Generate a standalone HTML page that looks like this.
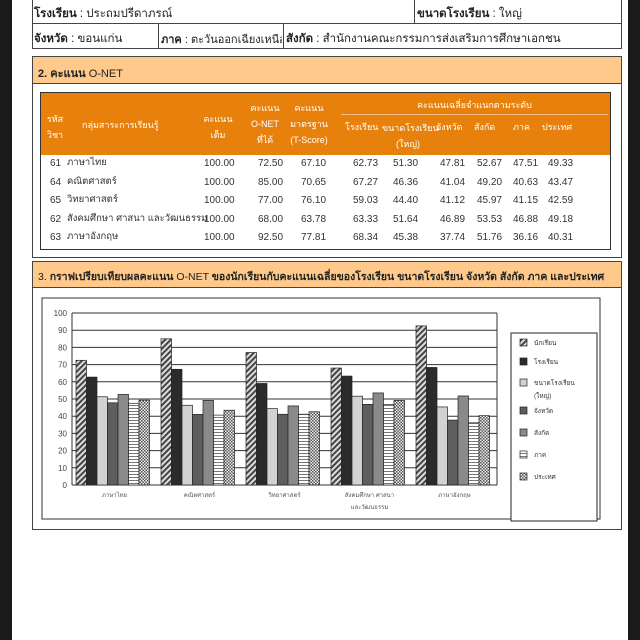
<!DOCTYPE html>
<html><head><meta charset="utf-8"><style>
*{margin:0;padding:0;box-sizing:border-box}
body{width:640px;height:640px;background:#1a1a1a;position:relative;overflow:hidden;font-family:"Liberation Sans","DejaVu Sans",sans-serif;color:#222}
.page{position:absolute;left:12px;top:0;width:616px;height:640px;background:#fff}
.a{position:absolute;white-space:nowrap}
.box{position:absolute;border:1px solid #444}
.t{font-size:10px;color:#333;line-height:12px}
.h{font-size:9px;color:#fff;text-align:center}
</style></head><body>
<div class="page"></div>
<div class="box" style="left:32px;top:-1px;width:590px;height:25px"></div>
<div class="box" style="left:32px;top:23px;width:590px;height:26px"></div>
<div class="a" style="left:414px;top:0;width:1px;height:23px;background:#444"></div>
<div class="a" style="left:158px;top:23px;width:1px;height:26px;background:#444"></div>
<div class="a" style="left:283px;top:23px;width:1px;height:26px;background:#444"></div>
<div class="a" style="left:34px;top:5px;font-size:11.5px"><b>โรงเรียน</b> :  ประถมปรีดาภรณ์</div>
<div class="a" style="left:417px;top:5px;font-size:11.5px"><b>ขนาดโรงเรียน</b> :  ใหญ่</div>
<div class="a" style="left:34px;top:30px;font-size:11.5px"><b>จังหวัด</b> : ขอนแก่น</div>
<div class="a" style="left:161px;top:30px;font-size:11px;width:121px;overflow:hidden"><b>ภาค</b> : ตะวันออกเฉียงเหนือ</div>
<div class="a" style="left:286px;top:30px;font-size:11.5px"><b>สังกัด</b> : สำนักงานคณะกรรมการส่งเสริมการศึกษาเอกชน</div>
<div class="box" style="left:32px;top:56px;width:590px;height:202px"></div>
<div class="a" style="left:33px;top:57px;width:588px;height:27px;background:#fec98a;border-bottom:1px solid #444"></div>
<div class="a" style="left:38px;top:64px;font-size:11px"><b>2. คะแนน</b>  O-NET</div>
<div class="a" style="left:40px;top:92px;width:571px;height:158px;border:1px solid #333"></div>
<div class="a" style="left:41px;top:93px;width:569px;height:62px;background:#e8810b"></div>
<div class="a" style="left:341px;top:114px;width:267px;height:1px;background:#f7c08a"></div>
<div class="a h" style="left:42px;top:111px;width:26px;line-height:16px">รหัส<br>วิชา</div>
<div class="a h" style="left:82px;top:118px">กลุ่มสาระการเรียนรู้</div>
<div class="a h" style="left:198px;top:111px;width:40px;line-height:16px">คะแนน<br>เต็ม</div>
<div class="a h" style="left:243px;top:100px;width:44px;line-height:16px">คะแนน<br>O-NET<br>ที่ได้</div>
<div class="a h" style="left:287px;top:100px;width:44px;line-height:16px">คะแนน<br>มาตรฐาน<br>(T-Score)</div>
<div class="a h" style="left:341px;top:98px;width:267px">คะแนนเฉลี่ยจำแนกตามระดับ</div>
<div class="a h" style="left:345px;top:120px">โรงเรียน</div>
<div class="a h" style="left:382px;top:120px;width:52px;line-height:16px">ขนาดโรงเรียน<br>(ใหญ่)</div>
<div class="a h" style="left:436px;top:120px">จังหวัด</div>
<div class="a h" style="left:474px;top:120px">สังกัด</div>
<div class="a h" style="left:513px;top:120px">ภาค</div>
<div class="a h" style="left:542px;top:120px">ประเทศ</div>
<div id="rows"></div>
<div class="box" style="left:32px;top:261px;width:590px;height:269px"></div>
<div class="a" style="left:33px;top:262px;width:588px;height:26px;background:#fec98a;border-bottom:1px solid #444"></div>
<div class="a" style="left:38px;top:268px;font-size:10.5px">3. <b>กราฟเปรียบเทียบผลคะแนน</b> O-NET <b>ของนักเรียนกับคะแนนเฉลี่ยของโรงเรียน ขนาดโรงเรียน จังหวัด สังกัด ภาค และประเทศ</b></div>
<svg class="a" style="left:0;top:0" width="640" height="640" id="ch">
<defs>
<pattern id="p0" width="4" height="4" patternUnits="userSpaceOnUse" patternTransform="rotate(45)"><rect width="4" height="4" fill="#ddd"/><rect width="2" height="4" fill="#444"/></pattern>
<pattern id="p5" width="3" height="3" patternUnits="userSpaceOnUse"><rect width="3" height="3" fill="#fff"/><rect width="3" height="1" fill="#777"/></pattern>
<pattern id="p6" width="3" height="3" patternUnits="userSpaceOnUse"><rect width="3" height="3" fill="#eee"/><rect width="1.5" height="1.5" fill="#555"/><rect x="1.5" y="1.5" width="1.5" height="1.5" fill="#555"/></pattern>
</defs>
<rect x="42" y="298" width="558" height="221" fill="#fff" stroke="#333"/>
<g id="g"></g>
</svg>
<script>
var d=[["61","ภาษาไทย","100.00","72.50","67.10","62.73","51.30","47.81","52.67","47.51","49.33"],
["64","คณิตศาสตร์","100.00","85.00","70.65","67.27","46.36","41.04","49.20","40.63","43.47"],
["65","วิทยาศาสตร์","100.00","77.00","76.10","59.03","44.40","41.12","45.97","41.15","42.59"],
["62","สังคมศึกษา ศาสนา และวัฒนธรรม","100.00","68.00","63.78","63.33","51.64","46.89","53.53","46.88","49.18"],
["63","ภาษาอังกฤษ","100.00","92.50","77.81","68.34","45.38","37.74","51.76","36.16","40.31"]];
var xs=[50,67,204,258,301,353,393,440,477,513,548];
var h="";
d.forEach(function(r,i){var y=158+i*18.5;r.forEach(function(v,j){h+='<div class="a t" style="left:'+xs[j]+'px;top:'+(j==1?y-1:y)+'px;'+(j==1?'font-size:9.5px;':'')+'">'+v+'</div>';});});
document.getElementById('rows').innerHTML=h;
var s="",fills=["url(#p0)","#2b2b2b","#d2d2d2","#5e5e5e","#8a8a8a","url(#p5)","url(#p6)"];
for(var k=0;k<=10;k++){var y=485-k*17.2;s+='<line x1="72" x2="497" y1="'+y+'" y2="'+y+'" stroke="#333"/>';s+='<text x="67" y="'+(y+3)+'" font-size="8" text-anchor="end" fill="#444" font-family="Liberation Sans">'+k*10+'</text>';}
s+='<line x1="72" x2="72" y1="313" y2="485" stroke="#333"/><line x1="497" x2="497" y1="313" y2="485" stroke="#333"/>';
var names=["ภาษาไทย","คณิตศาสตร์","วิทยาศาสตร์","สังคมศึกษา ศาสนา","ภาษาอังกฤษ"];
d.forEach(function(r,i){var x0=76+i*85;[3,5,6,7,8,9,10].forEach(function(c,j){var v=parseFloat(r[c]);var hh=v*1.72;s+='<rect x="'+(x0+j*10.5)+'" y="'+(485-hh)+'" width="10.5" height="'+hh+'" fill="'+fills[j]+'" stroke="#222" stroke-width="0.7"/>';});
s+='<text x="'+(114.5+i*85)+'" y="497" font-size="6" text-anchor="middle" fill="#555">'+names[i]+'</text>';});
s+='<text x="369.5" y="509" font-size="6" text-anchor="middle" fill="#555">และวัฒนธรรม</text>';
s+='<rect x="511" y="333" width="86" height="188" fill="#fff" stroke="#222"/>';
var ln=["นักเรียน","โรงเรียน","ขนาดโรงเรียน","จังหวัด","สังกัด","ภาค","ประเทศ"],ly=[343,362,383,411,433,455,477];
ln.forEach(function(n,j){s+='<rect x="520" y="'+(ly[j]-4)+'" width="7" height="7" fill="'+fills[j]+'" stroke="#222" stroke-width="0.7"/><text x="534" y="'+(ly[j]+2)+'" font-size="6.5" fill="#333">'+n+'</text>';});
s+='<text x="534" y="398" font-size="6.5" fill="#333">(ใหญ่)</text>';
document.getElementById('g').innerHTML=s;
</script>
</body></html>
